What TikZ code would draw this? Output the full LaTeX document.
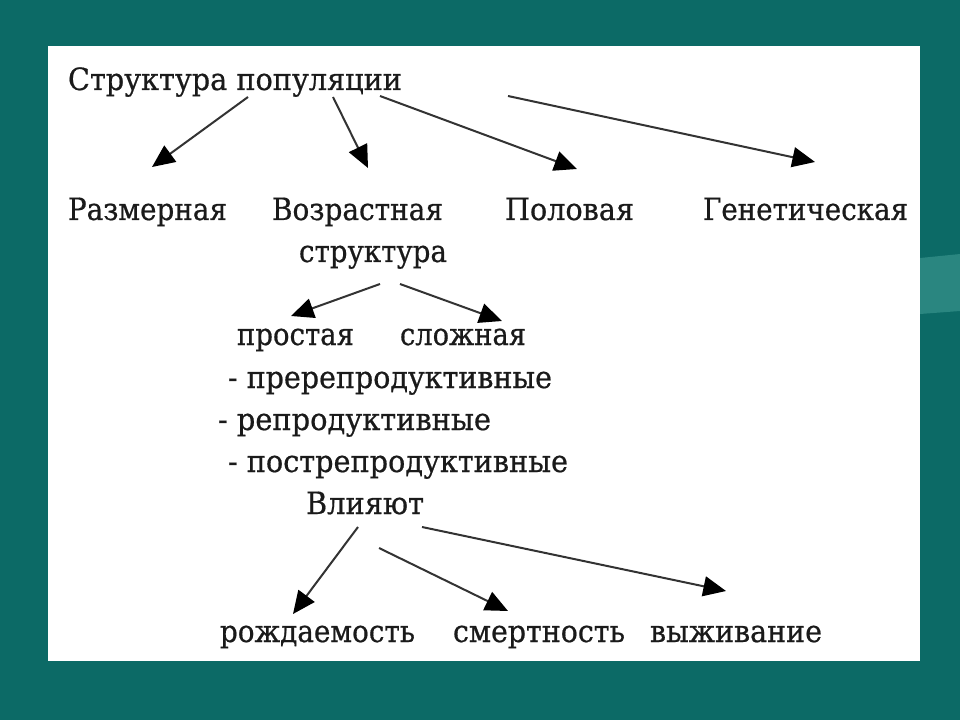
\documentclass[tikz,border=0pt]{standalone}
\usepackage{fontspec}
\usepackage{graphicx}
\usetikzlibrary{arrows.meta}
\newfontfamily\rs{DejaVu Serif}[FakeBold=0.6]
\newlength\pxu
\setlength\pxu{0.75pt}
\newcommand\fw[2]{\resizebox{#1\pxu}{\height}{#2}}
\definecolor{teal0}{HTML}{0C6A66}
\definecolor{teal1}{HTML}{2A8680}
\definecolor{ink}{HTML}{1A1A1A}
\definecolor{lineink}{HTML}{333333}
\begin{document}
\begin{tikzpicture}[x=0.75pt,y=-0.75pt,
  lbl/.style={anchor=base west,inner sep=0pt,outer sep=0pt,text=ink,font=\rs\fontsize{23pt}{26pt}\selectfont},
  arr/.style={draw=lineink,line width=1.5pt,-{Triangle[length=17pt,width=15pt,color=black]}}]
\useasboundingbox (0,0) rectangle (960,720);
\fill[teal0] (0,0) rectangle (960,720);
\fill[teal1] (920,258) -- (960,254) -- (960,311) -- (920,314) -- cycle;
\fill[white] (48,46) rectangle (920,661);

\node[lbl] (title) at (68,90) {\fw{334}{Структура популяции}};
\node[lbl] (razm) at (68,220) {\fw{159}{Размерная}};
\node[lbl] (vozr) at (272,220) {\fw{171}{Возрастная}};
\node[lbl] (struk) at (299,262) {\fw{148}{структура}};
\node[lbl] (pol) at (505,220) {\fw{129}{Половая}};
\node[lbl] (gen) at (703,220) {\fw{205}{Генетическая}};
\node[lbl] (prost) at (237,345) {\fw{117}{простая}};
\node[lbl] (slozh) at (400,345) {\fw{126}{сложная}};
\node[lbl] (pre) at (228,388) {\fw{324}{- пререпродуктивные}};
\node[lbl] (rep) at (218,430) {\fw{273}{- репродуктивные}};
\node[lbl] (post) at (228,472) {\fw{340}{- пострепродуктивные}};
\node[lbl] (vliy) at (306,514) {\fw{118}{Влияют}};
\node[lbl] (rozh) at (220,642) {\fw{195}{рождаемость}};
\node[lbl] (smert) at (453,642) {\fw{172}{смертность}};
\node[lbl] (vyzh) at (650,642) {\fw{172}{выживание}};

\coordinate (s1) at (248,97);  \coordinate (e1) at (152,167);
\coordinate (s2) at (333,97);  \coordinate (e2) at (368,168);
\coordinate (s3) at (380,96);  \coordinate (e3) at (577,169);
\coordinate (s4) at (508,96);  \coordinate (e4) at (815,162);
\coordinate (s5) at (380,284); \coordinate (e5) at (291,316);
\coordinate (s6) at (400,284); \coordinate (e6) at (502,321);
\coordinate (s7) at (358,527); \coordinate (e7) at (293,614);
\coordinate (s8) at (379,548); \coordinate (e8) at (508,611);
\coordinate (s9) at (422,527); \coordinate (e9) at (726,591);

\draw[arr] (s1) -- (e1);
\draw[arr] (s2) -- (e2);
\draw[arr] (s3) -- (e3);
\draw[arr] (s4) -- (e4);
\draw[arr] (s5) -- (e5);
\draw[arr] (s6) -- (e6);
\draw[arr] (s7) -- (e7);
\draw[arr] (s8) -- (e8);
\draw[arr] (s9) -- (e9);
\end{tikzpicture}
\end{document}
